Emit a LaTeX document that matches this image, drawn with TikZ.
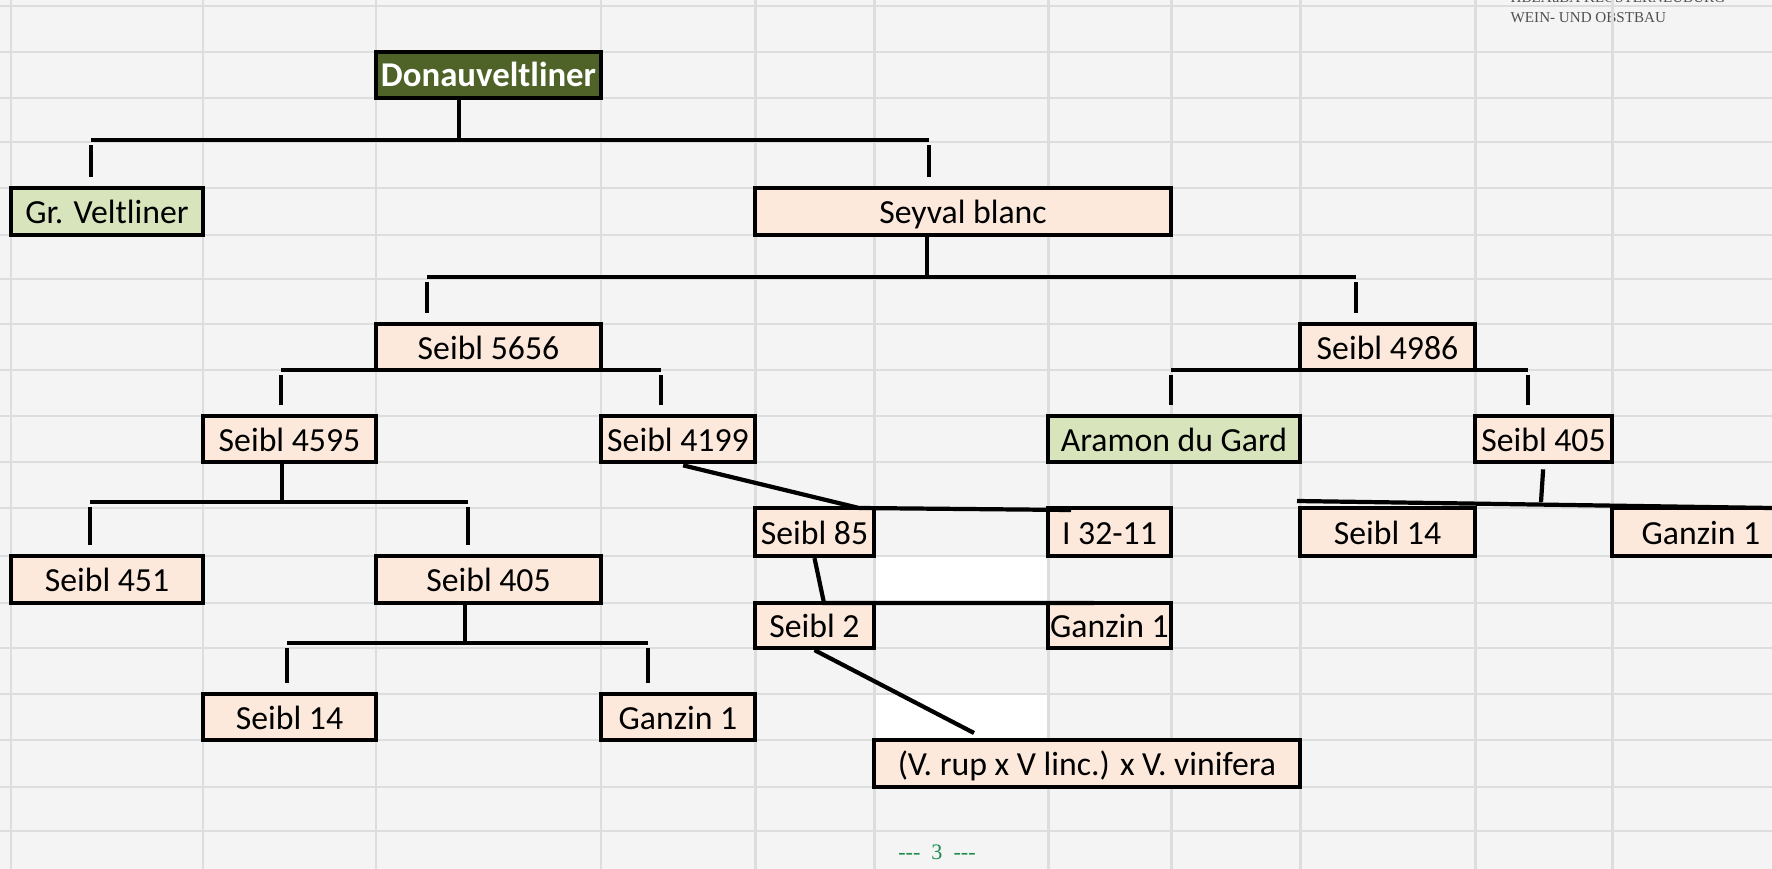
\documentclass[tikz,border=0pt]{standalone}
\usepackage{fontspec}
\setmainfont{Carlito}
\newfontfamily\headfont{Liberation Serif}
\usepackage{tikz}
\definecolor{vnsheet}{RGB}{243,244,243}
\definecolor{vngrid}{RGB}{220,221,221}
\definecolor{vnpeach}{RGB}{252,233,219}
\definecolor{vnsage}{RGB}{216,228,188}
\definecolor{vnolive}{RGB}{79,98,40}
\definecolor{vnfoot}{RGB}{30,140,80}
\definecolor{vnhead}{RGB}{80,80,80}
\tikzset{
  vine/.style={draw, line width=1.2pt, fill=#1, inner sep=0pt,
               text height=0.27cm, text depth=0.03cm,
               font=\fontsize{9.6}{11.5}\selectfont},
  link/.style={draw, line width=1.2pt},
  drop/.style={link, shorten <=1.5pt, shorten >=2.4pt},
  gridline/.style={draw=vngrid, line width=0.85pt},
  headtext/.style={font=\headfont\fontsize{4.3}{5.6}\selectfont, text=vnhead,
                   anchor=base west, inner sep=0pt},
}
\begin{document}
\begin{tikzpicture}[x=1cm, y=1cm]
\useasboundingbox (0,0) rectangle (17.72,-8.69);
\clip (0,0) rectangle (17.72,-8.69);
% sheet background
\fill[vnsheet] (0,0) rectangle (17.72,-8.69);
\fill[white] (8.74,-5.56) rectangle (10.48,-6.03);
\fill[white] (8.74,-6.94) rectangle (10.48,-7.40);

% header (cut at the top)
\node[headtext] (head1) at (15.10,-0.03) {HBLAuBA KLOSTERNEUBURG};
\node[headtext] (head2) at (15.10,-0.227) {WEIN- UND OBSTBAU};

% grid
\foreach \gx in {0.11,2.03,3.76,6.01,7.55,8.74,10.48,11.71,13.00,14.75,16.12}
  \draw[gridline] (\gx,0) -- (\gx,-8.69);
\foreach \gy in {0.06,0.52,0.98,1.42,1.88,2.35,2.79,3.24,3.70,4.16,4.62,5.08,5.56,6.03,6.48,6.94,7.40,7.87,8.31}
  \draw[gridline] (0,-\gy) -- (17.72,-\gy);

% varieties
\node[vine=vnolive, text=white, font=\fontsize{9.9}{11.5}\selectfont\bfseries, minimum width=2.25cm, minimum height=0.46cm] (donau) at (4.885,-0.75) {Donauveltliner};
\node[vine=vnsage, minimum width=1.92cm, minimum height=0.47cm] (grv) at (1.07,-2.115) {Gr. Veltliner};
\node[vine=vnpeach, minimum width=4.16cm, minimum height=0.47cm] (seyval) at (9.63,-2.115) {Seyval blanc};
\node[vine=vnpeach, minimum width=2.25cm, minimum height=0.46cm] (s5656) at (4.885,-3.47) {Seibl 5656};
\node[vine=vnpeach, minimum width=1.75cm, minimum height=0.46cm] (s4986) at (13.875,-3.47) {Seibl 4986};
\node[vine=vnpeach, minimum width=1.73cm, minimum height=0.46cm] (s4595) at (2.895,-4.39) {Seibl 4595};
\node[vine=vnpeach, minimum width=1.54cm, minimum height=0.46cm] (s4199) at (6.78,-4.39) {Seibl 4199};
\node[vine=vnsage, minimum width=2.52cm, minimum height=0.46cm] (aramon) at (11.74,-4.39) {Aramon du Gard};
\node[vine=vnpeach, minimum width=1.37cm, minimum height=0.46cm] (s405r) at (15.435,-4.39) {Seibl 405};
\node[vine=vnpeach, minimum width=1.19cm, minimum height=0.48cm] (s85) at (8.145,-5.32) {Seibl 85};
\node[vine=vnpeach, minimum width=1.23cm, minimum height=0.48cm] (i3211) at (11.095,-5.32) {I 32-11};
\node[vine=vnpeach, minimum width=1.75cm, minimum height=0.48cm] (s14r) at (13.875,-5.32) {Seibl 14};
\node[vine=vnpeach, minimum width=1.78cm, minimum height=0.48cm] (ganzr) at (17.01,-5.32) {Ganzin 1};
\node[vine=vnpeach, minimum width=1.92cm, minimum height=0.47cm] (s451) at (1.07,-5.795) {Seibl 451};
\node[vine=vnpeach, minimum width=2.25cm, minimum height=0.47cm] (s405l) at (4.885,-5.795) {Seibl 405};
\node[vine=vnpeach, minimum width=1.19cm, minimum height=0.45cm] (s2) at (8.145,-6.255) {Seibl 2};
\node[vine=vnpeach, minimum width=1.23cm, minimum height=0.45cm] (ganzm) at (11.095,-6.255) {Ganzin 1};
\node[vine=vnpeach, minimum width=1.73cm, minimum height=0.46cm] (s14l) at (2.895,-7.17) {Seibl 14};
\node[vine=vnpeach, minimum width=1.54cm, minimum height=0.46cm] (ganzl) at (6.78,-7.17) {Ganzin 1};
\node[vine=vnpeach, minimum width=4.26cm, minimum height=0.47cm] (vinif) at (10.87,-7.635) {(V. rup x V linc.) x V. vinifera};

% Donauveltliner
\coordinate (jd)  at (4.59,-1.40);
\coordinate (jdl) at (0.91,-1.40);
\coordinate (jdr) at (9.29,-1.40);
\draw[link] (donau.south -| jd) -- (jd);
\draw[link] (jdl) -- (jdr);
\draw[drop] (jdl) -- (grv.north -| jdl);
\draw[drop] (jdr) -- (seyval.north -| jdr);

% Seyval blanc
\coordinate (js)  at (9.27,-2.77);
\coordinate (jsl) at (4.27,-2.77);
\coordinate (jsr) at (13.56,-2.77);
\draw[link] (seyval.south -| js) -- (js);
\draw[link] (jsl) -- (jsr);
\draw[drop] (jsl) -- (s5656.north -| jsl);
\draw[drop] (jsr) -- (s4986.north -| jsr);

% Seibl 5656
\coordinate (j56l) at (2.81,-3.70);
\coordinate (j56r) at (6.61,-3.70);
\draw[link] (j56l) -- (j56r);
\draw[drop] (j56l) -- (s4595.north -| j56l);
\draw[drop] (j56r) -- (s4199.north -| j56r);

% Seibl 4986
\coordinate (j49l) at (11.71,-3.70);
\coordinate (j49r) at (15.28,-3.70);
\draw[link] (j49l) -- (j49r);
\draw[drop] (j49l) -- (aramon.north -| j49l);
\draw[drop] (j49r) -- (s405r.north -| j49r);

% Seibl 4595
\coordinate (j45)  at (2.82,-5.02);
\coordinate (j45l) at (0.90,-5.02);
\coordinate (j45r) at (4.68,-5.02);
\draw[link] (s4595.south -| j45) -- (j45);
\draw[link] (j45l) -- (j45r);
\draw[drop] (j45l) -- (s451.north -| j45l);
\draw[drop] (j45r) -- (s405l.north -| j45r);

% Seibl 405 (left)
\coordinate (j40)  at (4.65,-6.43);
\coordinate (j40l) at (2.87,-6.43);
\coordinate (j40r) at (6.48,-6.43);
\draw[link] (s405l.south -| j40) -- (j40);
\draw[link] (j40l) -- (j40r);
\draw[drop] (j40l) -- (s14l.north -| j40l);
\draw[drop] (j40r) -- (ganzl.north -| j40r);

% Seibl 4199, Seibl 85, Seibl 2
\coordinate (k1) at (8.59,-5.08);
\coordinate (k2) at (10.71,-5.10);
\draw[link, shorten <=1.5pt] (s4199.south) -- (k1) -- (k2);
\coordinate (k3) at (8.24,-6.03);
\coordinate (k4) at (10.94,-6.03);
\draw[link] (s85.south) -- (k3) -- (k4);
\coordinate (k5) at (9.74,-7.33);
\draw[link] (s2.south) -- (k5);

% Seibl 405 (right)
\coordinate (k6) at (15.41,-5.02);
\coordinate (k7) at (12.97,-5.01);
\coordinate (k8) at (17.72,-5.08);
\draw[link, shorten <=1.5pt] (s405r.south) -- (k6);
\draw[link] (k7) -- (k8);

% page number
\node[font=\headfont\fontsize{6.3}{7.5}\selectfont, text=vnfoot] (folio) at (9.37,-8.52) {-{}-{}-\ \ 3\ \ -{}-{}-};
\end{tikzpicture}
\end{document}
